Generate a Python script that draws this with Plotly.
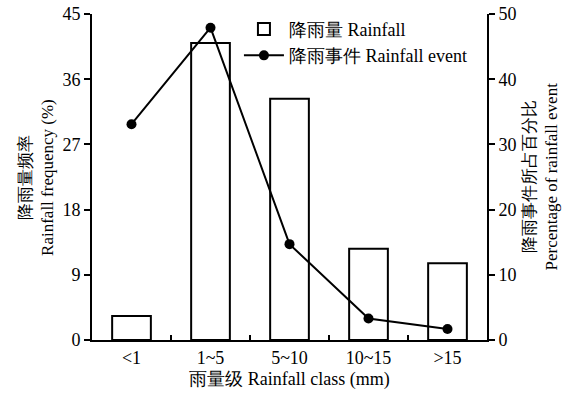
import plotly.graph_objects as go

# Rainfall classes (mm)
classes = ["<1", "1~5", "5~10", "10~15", ">15"]
# Share of total rainfall amount per class (%)
rainfall_freq = [3.3, 41.0, 33.3, 12.6, 10.6]
# Share of rainfall events per class (%)
event_pct = [33.1, 47.9, 14.7, 3.3, 1.7]

left_ticks = [0, 9, 18, 27, 36, 45]
right_ticks = [0, 10, 20, 30, 40, 50]

FONT = "Liberation Serif"

fig = go.Figure()
fig.add_trace(go.Bar(
    x=classes, y=rainfall_freq, name="降雨量 Rainfall",
    width=0.49, marker=dict(color="white", line=dict(color="black", width=2)),
    yaxis="y",
))
fig.add_trace(go.Scatter(
    x=classes, y=event_pct, name="降雨事件 Rainfall event",
    mode="lines+markers", line=dict(color="black", width=2),
    marker=dict(color="black", size=10), yaxis="y2",
))

fig.update_layout(
    width=566, height=394,
    margin=dict(l=92, r=79, t=14, b=54, autoexpand=False),
    plot_bgcolor="white", paper_bgcolor="white",
    font=dict(family=FONT, size=18, color="black"),
    showlegend=True,
    legend=dict(x=0.372, y=1.01, xanchor="left", yanchor="top",
                bgcolor="rgba(0,0,0,0)", font=dict(size=18),
                tracegroupgap=0, itemwidth=40),
    bargap=0.5,
    xaxis=dict(
        type="category", showline=True, linecolor="black", linewidth=2,
        ticks="inside", tickson="boundaries", ticklen=5, tickwidth=2,
        tickcolor="black", showgrid=False, zeroline=False,
        range=[-0.5, 4.5],
        title=dict(text="雨量级 Rainfall class (mm)", standoff=6,
                   font=dict(size=18)),
    ),
    yaxis=dict(
        range=[0, 45], tickvals=left_ticks, showline=True, linecolor="black",
        linewidth=2, ticks="outside", ticklen=6, tickwidth=2, tickcolor="black",
        showgrid=False, zeroline=False,
    ),
    yaxis2=dict(
        range=[0, 50], tickvals=right_ticks, overlaying="y", side="right",
        showline=True, linecolor="black", linewidth=2, ticks="outside",
        ticklen=6, tickwidth=2, tickcolor="black", showgrid=False,
        zeroline=False,
    ),
)

# Two-line axis titles (Chinese / English), rotated
fig.add_annotation(
    text="降雨量频率<br>Rainfall frequency (%)", xref="paper", yref="paper",
    x=-0.085, y=0.5, xanchor="right", yanchor="middle", textangle=-90,
    showarrow=False, font=dict(size=17), align="center",
)
fig.add_annotation(
    text="降雨事件所占百分比<br>Percentage of rainfall event", xref="paper",
    yref="paper", x=1.076, y=0.5, xanchor="left", yanchor="middle",
    textangle=-90, showarrow=False, font=dict(size=17), align="center",
)

fig.write_html("out.html")
